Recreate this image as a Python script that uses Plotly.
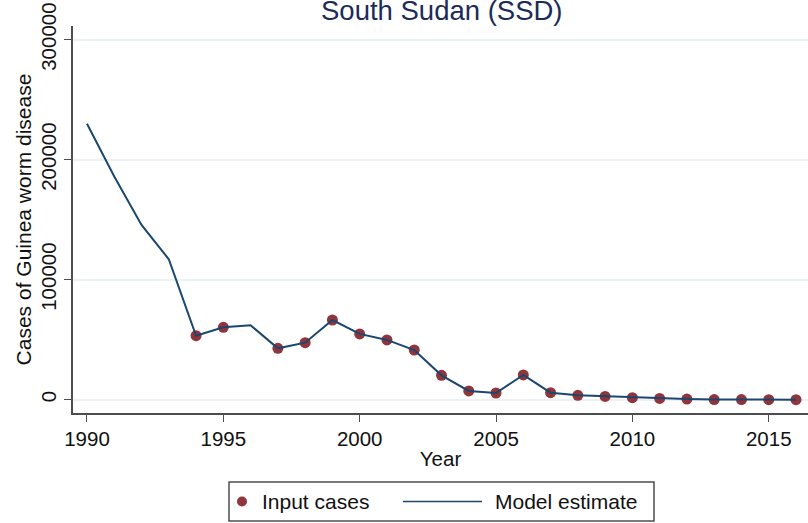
import plotly.graph_objects as go

# Guinea worm disease, South Sudan
years = list(range(1990, 2017))
input_cases = [None, None, None, None,
               53300, 60300, None, 42800, 47500, 66400, 54800, 49800,
               41400, 20299, 7266, 5569, 20582, 5815, 3618, 2733, 1698,
               1028, 521, 113, 70, 5, 6]
model_estimate = [230000, 186000, 145600, 117000,
                  53300, 60300, 62000, 42800, 47500, 66400, 54800, 49800,
                  41400, 20299, 7266, 5569, 20582, 5815, 3618, 2733, 1698,
                  1028, 521, 113, 70, 5, 6]
x_ticks = [1990, 1995, 2000, 2005, 2010, 2015]
y_ticks = [0, 100000, 200000, 300000]
y_tick_labels = ["0", "100000", "200000", "300000"]

W, H = 808, 523
ML, MR, MT, MB = 73, 0, 26, 110
PW, PH = W - ML - MR, H - MT - MB

NAVY = "#1a476f"
MAROON = "#90353b"
GRID = "#eaf2f3"
AXIS = "#4d4d4d"
FONT = "Liberation Sans, Arial, sans-serif"


def px(xp):
    return (xp - ML) / PW


def py(yp):
    return (H - MB - yp) / PH


fig = go.Figure()
fig.add_trace(go.Scatter(
    x=years, y=input_cases, mode="markers", name="Input cases",
    marker=dict(color=MAROON, size=11, line=dict(width=0)),
    showlegend=False,
))
fig.add_trace(go.Scatter(
    x=years, y=model_estimate, mode="lines", name="Model estimate",
    line=dict(color=NAVY, width=2), showlegend=False,
))

# legend drawn as a framed key below the axis title
shapes = [
    dict(type="rect", xref="paper", yref="paper",
         x0=px(229), x1=px(654), y0=py(521), y1=py(482),
         line=dict(color=AXIS, width=1.5), fillcolor="white", layer="above"),
    dict(type="circle", xref="paper", yref="paper",
         x0=px(237), x1=px(247), y0=py(506.5), y1=py(496.5),
         line=dict(width=0), fillcolor=MAROON),
    dict(type="line", xref="paper", yref="paper",
         x0=px(403), x1=px(482), y0=py(501.5), y1=py(501.5),
         line=dict(color=NAVY, width=1.5)),
]
annotations = [
    dict(text="Input cases", xref="paper", yref="paper", x=px(260), y=py(501.5),
         xanchor="left", yanchor="middle", showarrow=False,
         font=dict(size=21, color="#111", family=FONT)),
    dict(text="Model estimate", xref="paper", yref="paper", x=px(493), y=py(501.5),
         xanchor="left", yanchor="middle", showarrow=False,
         font=dict(size=21, color="#111", family=FONT)),
    dict(text="South Sudan (SSD)", xref="paper", yref="paper", x=px(441.5), y=py(28),
         xanchor="center", yanchor="bottom", showarrow=False,
         font=dict(size=27.5, color="#1c2b5a", family=FONT)),
]

fig.update_layout(
    width=W, height=H,
    margin=dict(l=ML, r=MR, t=MT, b=MB, pad=0),
    paper_bgcolor="white", plot_bgcolor="white",
    font=dict(family=FONT, size=20.5, color="#111"),
    shapes=shapes, annotations=annotations,
    showlegend=False,
)
fig.update_xaxes(
    range=[1989.487, 2016.44], tickvals=x_ticks,
    showgrid=False, zeroline=False,
    showline=True, linecolor=AXIS, linewidth=1.5,
    ticks="outside", ticklen=7, tickwidth=1.3, tickcolor=AXIS,
    tickfont=dict(size=20.5, color="#111"),
    title=dict(text="Year", font=dict(size=20.5, color="#111"), standoff=2),
)
fig.update_yaxes(
    range=[-11100, 311400], tickvals=y_ticks, ticktext=y_tick_labels,
    showgrid=True, gridcolor=GRID, gridwidth=1.5, zeroline=False,
    showline=True, linecolor=AXIS, linewidth=1.5,
    ticks="outside", ticklen=7, tickwidth=1.3, tickcolor=AXIS,
    tickangle=-90,
    tickfont=dict(size=20.5, color="#111"),
    title=dict(text="Cases of Guinea worm disease", font=dict(size=21, color="#111"), standoff=0),
)

fig.write_html("out.html")
